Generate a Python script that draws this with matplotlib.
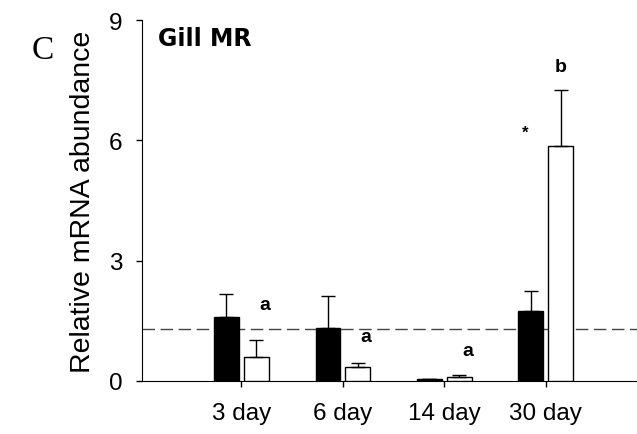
import matplotlib
matplotlib.use("Agg")
import matplotlib.pyplot as plt
import numpy as np

plt.rcParams['font.family'] = ['Liberation Sans', 'DejaVu Sans']

categories = ["3 day", "6 day", "14 day", "30 day"]
black_vals = [1.60, 1.32, 0.05, 1.75]
black_err = [0.57, 0.80, 0.0, 0.50]
white_vals = [0.60, 0.35, 0.10, 5.86]
white_err = [0.42, 0.10, 0.05, 1.40]
letters = ["a", "a", "a", "b"]
letter_y = [1.9, 1.12, 0.75, 7.85]
star_y = 6.2
ref_level = 1.3
yticks = [0, 3, 6, 9]

fig = plt.figure(figsize=(6.37, 4.35), dpi=100)
ax = fig.add_axes([142/637, 1-382/435, 1-142/637, (382-21)/435])

x = np.arange(len(categories))
w = 0.245
off = 0.147
ax.bar(x - off, black_vals, w, color='black', edgecolor='black', linewidth=1, zorder=3)
ax.bar(x + off, white_vals, w, color='white', edgecolor='black', linewidth=1, zorder=3)
lo = [0]*4
ax.errorbar(x - off, black_vals, yerr=[lo, black_err], fmt='none', ecolor='black',
            elinewidth=1, capsize=5, capthick=1, zorder=4)
ax.errorbar(x + off, white_vals, yerr=[lo, white_err], fmt='none', ecolor='black',
            elinewidth=1, capsize=5, capthick=1, zorder=4)

ax.axhline(ref_level, color='#444444', linestyle=(0, (9, 4)), linewidth=1, zorder=2)

for i, (l, ly) in enumerate(zip(letters, letter_y)):
    xo = 0.23 if i < 3 else 0.15
    ax.text(i + xo, ly, l, ha='center', va='center', fontsize=14, fontweight='bold')
ax.text(3 - 0.2, star_y, "*", ha='center', va='center', fontsize=12, fontweight='bold')

ax.set_xlim(-0.98, 3.9)
ax.set_ylim(0, 9)
ax.set_yticks(yticks)
ax.set_xticks(x)
ax.set_xticklabels(categories)
ax.tick_params(axis='both', labelsize=17.5, direction='out', length=4, width=1)
ax.tick_params(axis='x', pad=11)
ax.tick_params(axis='y', pad=10)
ax.spines['top'].set_visible(False)
ax.spines['right'].set_visible(False)
ax.set_ylabel("Relative mRNA abundance", fontsize=20.5, labelpad=9)

fig.text(32/637, 1-51/435, "C", fontsize=24, family='Liberation Serif', ha='left', va='center')
fig.text(158/637, 1-39/435, "Gill MR", fontsize=17, family='DejaVu Sans',
         fontweight='bold', ha='left', va='center')

fig.savefig("out.png", dpi=100)
